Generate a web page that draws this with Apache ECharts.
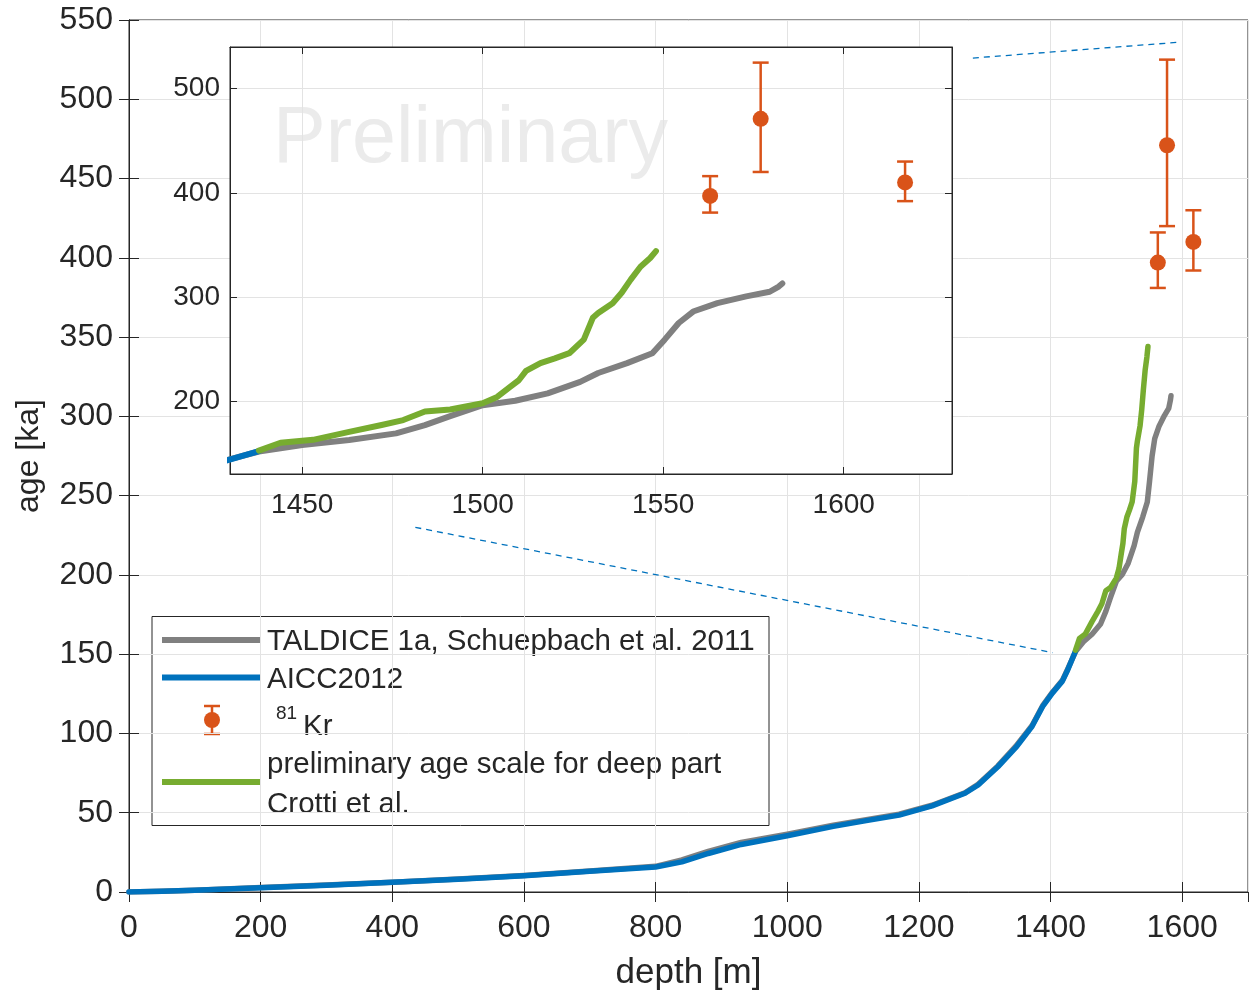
<!DOCTYPE html>
<html>
<head>
<meta charset="utf-8">
<script src="https://cdn.jsdelivr.net/npm/echarts@6/dist/echarts.min.js"></script>
<style>
  html, body { margin: 0; padding: 0; background: #ffffff; }
  #chart { width: 1257px; height: 993px; }
</style>
</head>
<body>
<div id="chart"></div>
<script>
// AICC2012 age scale (depth in m, age in ka)
const aiccDepth = [0, 50, 100, 200, 300, 400, 500, 600, 700, 800, 840, 880, 930, 1000, 1070, 1120, 1170, 1220, 1270, 1290, 1320, 1347, 1372, 1388, 1403, 1418, 1426, 1438];
const aiccAge   = [0, 0.5, 1.1, 2.7, 4.3, 6.1, 8.1, 10.3, 13.1, 15.8, 19.0, 24.3, 30.0, 35.5, 41.4, 45.0, 48.5, 54.3, 62.3, 67.5, 79.0, 91.0, 104.5, 117.0, 125.6, 133.0, 140.0, 152.0];

// TALDICE 1a (Schuepbach et al. 2011)
const taldiceDepth = [0, 50, 100, 200, 300, 400, 500, 600, 700, 800, 840, 880, 930, 1000, 1070, 1120, 1170, 1220, 1270, 1290, 1320, 1347, 1372, 1388, 1403, 1418, 1426, 1438,
  1450, 1463, 1476, 1484, 1491, 1500, 1509, 1518, 1527, 1532, 1540, 1547, 1550.4, 1554.3, 1558.3, 1565, 1573, 1579.5, 1582, 1583];
const taldiceAge = [0, 0.5, 1.1, 2.8, 4.4, 6.2, 8.2, 10.4, 13.3, 16.2, 20.2, 25.6, 31.3, 36.5, 42.2, 45.6, 49.1, 54.7, 62.6, 68.0, 79.5, 91.8, 105.0, 117.5, 126.0, 133.5, 140.5, 151.6,
  157.8, 162.6, 169.0, 177.0, 185.6, 196.0, 200.3, 207.4, 218.5, 227.0, 236.5, 246.0, 259.0, 275.0, 286.0, 294.0, 300.5, 305.0, 310.0, 313.0];

// Preliminary age scale for the deep part (Crotti et al.)
const crottiDepth = [1438, 1444, 1453, 1463, 1472, 1478, 1484, 1491, 1500, 1504, 1507.5, 1510, 1512, 1516, 1520, 1524, 1528, 1530.5, 1532, 1536, 1538.5, 1541, 1543.7, 1546.4, 1548];
const crottiAge   = [152.5, 160.0, 162.8, 170.5, 177.0, 181.8, 190.0, 192.0, 198.0, 204.0, 213.5, 220.0, 229.0, 236.5, 241.0, 246.0, 259.0, 280.0, 284.5, 294.0, 304.0, 316.6, 329.0, 337.4, 344.0];

// 81Kr dating: depth, age and uncertainty range (ka)
const krDepth = [1563, 1577, 1617];
const krAge   = [397, 471, 410];
const krLow   = [381, 420, 392];
const krHigh  = [416, 525, 430];

// Guide lines tying the zoomed panel to the deep section (depth, age)
const guideLower = [[435, 230], [1403, 151]];
const guideUpper = [[1282, 526], [1596, 536]];

// Tick labels
const mainDepthTicks = [0, 200, 400, 600, 800, 1000, 1200, 1400, 1600];
const mainAgeTicks = [0, 50, 100, 150, 200, 250, 300, 350, 400, 450, 500, 550];
const zoomDepthTicks = [1450, 1500, 1550, 1600];
const zoomAgeTicks = [200, 300, 400, 500];

const FONT = '"Liberation Sans", Arial, Helvetica, sans-serif';
const INK = '#262626';
const GRID = '#e3e3e3';
const C_GRAY = '#808080';
const C_BLUE = '#0072BD';
const C_GREEN = '#77AC30';
const C_ORANGE = '#D95319';

const pairs = (xs, ys) => xs.map((x, i) => [x, ys[i]]);

function errorBars(xi, yi, z) {
  return {
    type: 'custom',
    xAxisIndex: xi, yAxisIndex: yi, z: z,
    data: krDepth.map((d, i) => [d, krLow[i], krHigh[i]]),
    encode: { x: 0, y: [1, 2] },
    renderItem: function (params, api) {
      const lo = api.coord([api.value(0), api.value(1)]);
      const hi = api.coord([api.value(0), api.value(2)]);
      const w = 8;
      const st = { stroke: C_ORANGE, lineWidth: 2.5 };
      return {
        type: 'group',
        children: [
          { type: 'line', shape: { x1: lo[0], y1: lo[1], x2: hi[0], y2: hi[1] }, style: st },
          { type: 'line', shape: { x1: lo[0] - w, y1: lo[1], x2: lo[0] + w, y2: lo[1] }, style: st },
          { type: 'line', shape: { x1: hi[0] - w, y1: hi[1], x2: hi[0] + w, y2: hi[1] }, style: st }
        ]
      };
    }
  };
}

function lineSeries(xi, yi, data, color, width, z) {
  return {
    type: 'line', xAxisIndex: xi, yAxisIndex: yi, data: data,
    showSymbol: false, symbol: 'none', z: z,
    lineStyle: { color: color, width: width, cap: 'round', join: 'round' },
    silent: true, animation: false
  };
}

const axisLineStyle = { show: true, lineStyle: { color: INK, width: 1 } };
const plain = v => String(v);

const option = {
  animation: false,
  backgroundColor: '#ffffff',
  grid: [
    { left: 129, right: 9, top: 20, bottom: 101, show: true, borderColor: INK, borderWidth: 1, backgroundColor: '#ffffff', z: 0,
      outerBoundsMode: 'none', containLabel: false },
    { left: 230, top: 47, width: 722, height: 427, show: true, borderColor: INK, borderWidth: 1, backgroundColor: '#ffffff', z: 1,
      outerBoundsMode: 'none', containLabel: false }
  ],
  xAxis: [
    {
      type: 'value', gridIndex: 0, position: 'bottom', min: 0, max: 1700, interval: 200,
      name: 'depth [m]', nameLocation: 'middle', nameGap: 64,
      nameTextStyle: { fontFamily: FONT, fontSize: 35, color: INK },
      axisLine: axisLineStyle,
      axisTick: { show: true, inside: true, length: 10, lineStyle: { color: INK } },
      axisLabel: { show: true, margin: 20, fontFamily: FONT, fontSize: 32, color: INK, showMaxLabel: false,
        formatter: v => (mainDepthTicks.indexOf(v) >= 0 ? String(v) : '') },
      splitLine: { show: true, lineStyle: { color: GRID, width: 1 } }
    },
    {
      type: 'value', gridIndex: 0, position: 'top', min: 0, max: 1700, interval: 200,
      axisLine: axisLineStyle,
      axisTick: { show: true, inside: true, length: 10, lineStyle: { color: INK } },
      axisLabel: { show: false }, splitLine: { show: false }
    },
    {
      type: 'value', gridIndex: 1, position: 'bottom', min: 1430, max: 1630, z: 3,
      axisLine: axisLineStyle,
      axisTick: { show: true, inside: true, length: 7, lineStyle: { color: INK }, customValues: zoomDepthTicks },
      axisLabel: { show: true, margin: 17, fontFamily: FONT, fontSize: 28, color: INK, customValues: zoomDepthTicks, formatter: plain },
      splitLine: { show: true, lineStyle: { color: GRID, width: 1 } }
    },
    {
      type: 'value', gridIndex: 1, position: 'top', min: 1430, max: 1630, z: 3,
      axisLine: axisLineStyle,
      axisTick: { show: true, inside: true, length: 7, lineStyle: { color: INK }, customValues: zoomDepthTicks },
      axisLabel: { show: false }, splitLine: { show: false }
    }
  ],
  yAxis: [
    {
      type: 'value', gridIndex: 0, position: 'left', min: 0, max: 550, interval: 50,
      name: 'age [ka]', nameLocation: 'middle', nameGap: 84, nameRotate: 90,
      nameTextStyle: { fontFamily: FONT, fontSize: 32, color: INK },
      axisLine: axisLineStyle,
      axisTick: { show: true, inside: true, length: 10, lineStyle: { color: INK } },
      axisLabel: { show: true, margin: 16, fontFamily: FONT, fontSize: 32, color: INK,
        formatter: v => (mainAgeTicks.indexOf(v) >= 0 ? String(v) : '') },
      splitLine: { show: true, lineStyle: { color: GRID, width: 1 } }
    },
    {
      type: 'value', gridIndex: 0, position: 'right', min: 0, max: 550, interval: 50,
      axisLine: axisLineStyle,
      axisTick: { show: true, inside: true, length: 10, lineStyle: { color: INK } },
      axisLabel: { show: false }, splitLine: { show: false }
    },
    {
      type: 'value', gridIndex: 1, position: 'left', min: 130, max: 540, z: 3,
      axisLine: axisLineStyle,
      axisTick: { show: true, inside: true, length: 7, lineStyle: { color: INK }, customValues: zoomAgeTicks },
      axisLabel: { show: true, margin: 10, fontFamily: FONT, fontSize: 28, color: INK, customValues: zoomAgeTicks, formatter: plain },
      splitLine: { show: true, lineStyle: { color: GRID, width: 1 } }
    },
    {
      type: 'value', gridIndex: 1, position: 'right', min: 130, max: 540, z: 3,
      axisLine: axisLineStyle,
      axisTick: { show: true, inside: true, length: 7, lineStyle: { color: INK }, customValues: zoomAgeTicks },
      axisLabel: { show: false }, splitLine: { show: false }
    }
  ],
  series: [
    // full record
    lineSeries(0, 0, pairs(taldiceDepth, taldiceAge), C_GRAY, 5.5, 2),
    lineSeries(0, 0, pairs(aiccDepth, aiccAge), C_BLUE, 5.5, 2),
    lineSeries(0, 0, pairs(crottiDepth, crottiAge), C_GREEN, 5.5, 2),
    errorBars(0, 0, 2),
    { type: 'scatter', xAxisIndex: 0, yAxisIndex: 0, z: 2, symbol: 'circle', symbolSize: 16,
      itemStyle: { color: C_ORANGE, opacity: 1 }, data: pairs(krDepth, krAge), silent: true },
    { type: 'line', xAxisIndex: 0, yAxisIndex: 0, z: 2, data: guideLower, showSymbol: false, symbol: 'none',
      lineStyle: { color: C_BLUE, width: 1.3, type: [6, 5] }, silent: true },
    { type: 'line', xAxisIndex: 0, yAxisIndex: 0, z: 2, data: guideUpper, showSymbol: false, symbol: 'none',
      lineStyle: { color: C_BLUE, width: 1.3, type: [6, 5] }, silent: true },
    // zoomed deep section
    lineSeries(2, 2, pairs(taldiceDepth, taldiceAge), C_GRAY, 6, 5),
    lineSeries(2, 2, pairs(aiccDepth, aiccAge), C_BLUE, 6, 5),
    lineSeries(2, 2, pairs(crottiDepth, crottiAge), C_GREEN, 6, 5),
    errorBars(2, 2, 5),
    { type: 'scatter', xAxisIndex: 2, yAxisIndex: 2, z: 5, symbol: 'circle', symbolSize: 16,
      itemStyle: { color: C_ORANGE, opacity: 1 }, data: pairs(krDepth, krAge), silent: true }
  ],
  graphic: [
    {
      type: 'text', z: 2, silent: true,
      style: { text: 'Preliminary', x: 273, y: 140, font: '79px ' + FONT, fill: '#ebebeb', align: 'left', verticalAlign: 'middle' }
    },
    {
      type: 'group', z: 10, silent: true,
      children: [
        { type: 'rect', shape: { x: 152, y: 616.5, width: 617, height: 209 },
          style: { fill: '#ffffff', stroke: INK, lineWidth: 1 } },
        { type: 'line', shape: { x1: 162, y1: 640, x2: 260, y2: 640 }, style: { stroke: C_GRAY, lineWidth: 6 } },
        { type: 'line', shape: { x1: 162, y1: 677.5, x2: 260, y2: 677.5 }, style: { stroke: C_BLUE, lineWidth: 6 } },
        { type: 'line', shape: { x1: 212, y1: 706, x2: 212, y2: 734 }, style: { stroke: C_ORANGE, lineWidth: 2.5 } },
        { type: 'line', shape: { x1: 204, y1: 706, x2: 220, y2: 706 }, style: { stroke: C_ORANGE, lineWidth: 2.5 } },
        { type: 'line', shape: { x1: 204, y1: 734, x2: 220, y2: 734 }, style: { stroke: C_ORANGE, lineWidth: 2.5 } },
        { type: 'circle', shape: { cx: 212, cy: 720, r: 8 }, style: { fill: C_ORANGE } },
        { type: 'line', shape: { x1: 162, y1: 782, x2: 260, y2: 782 }, style: { stroke: C_GREEN, lineWidth: 6 } },
        { type: 'text', style: { text: 'TALDICE 1a, Schuepbach et al. 2011', x: 267, y: 642, font: '29.5px ' + FONT, fill: INK, verticalAlign: 'middle' } },
        { type: 'text', style: { text: 'AICC2012', x: 267, y: 680, font: '29.5px ' + FONT, fill: INK, verticalAlign: 'middle' } },
        { type: 'text', style: { text: '81', x: 276, y: 714, font: '19px ' + FONT, fill: INK, verticalAlign: 'middle' } },
        { type: 'text', style: { text: 'Kr', x: 303, y: 727, font: '29.5px ' + FONT, fill: INK, verticalAlign: 'middle' } },
        { type: 'text', style: { text: 'preliminary age scale for deep part', x: 267, y: 765, font: '29.5px ' + FONT, fill: INK, verticalAlign: 'middle' } },
        { type: 'text', style: { text: 'Crotti et al.', x: 267, y: 805, font: '29.5px ' + FONT, fill: INK, verticalAlign: 'middle' } }
      ]
    }
  ]
};

const chart = echarts.init(document.getElementById('chart'), null, { renderer: 'canvas' });
chart.setOption(option);
</script>
</body>
</html>
